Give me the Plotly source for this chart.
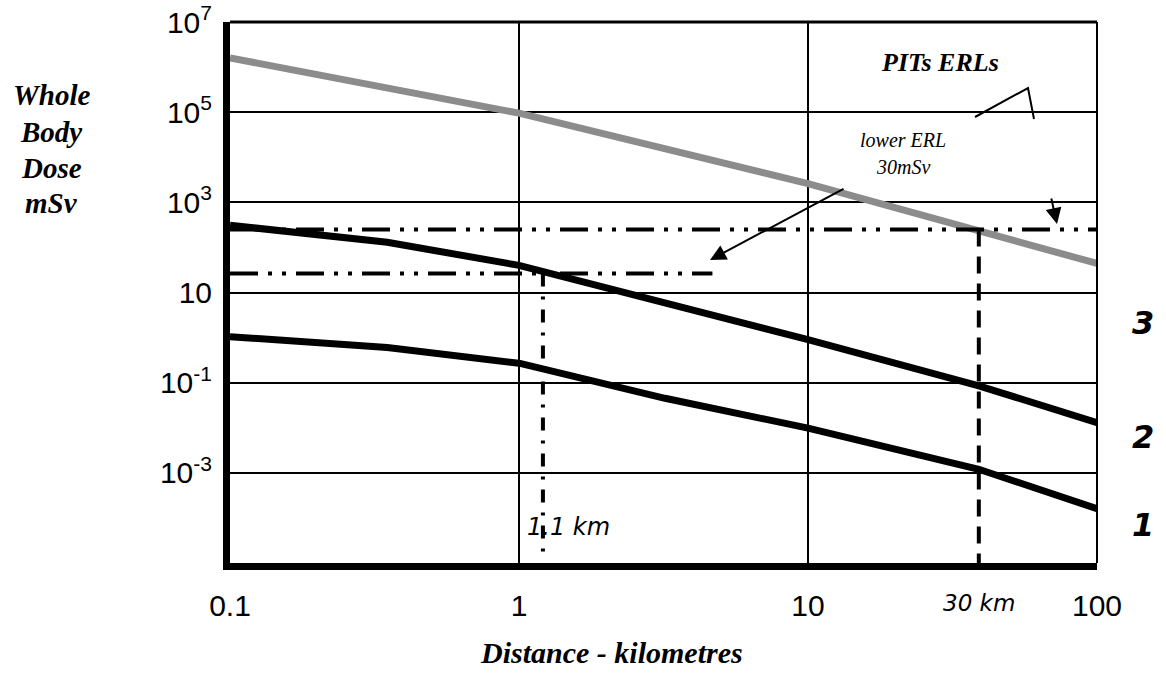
import plotly.graph_objects as go

# ---- data ----
dist_km = [0.1, 0.35, 1, 3.2, 10, 39, 100]
curve_upper = [310, 130, 40, 5.8, 0.9, 0.085, 0.013]
curve_lower = [1.05, 0.6, 0.27, 0.045, 0.0098, 0.0012, 0.00016]

gray_x = [0.1, 0.28, 1, 10, 100]
gray_y = [1.6e6, 4.4e5, 9.5e4, 2.6e3, 44]

upper_erl = 251          # mSv, dash-dot line
upper_erl_x = [0.1, 100]
lower_erl = 26.4         # mSv, lower ERL 30 mSv
lower_erl_x = [0.1, 4.67]
dist_1km = 1.21
dist_30km = 39
y_floor = 1.6e-5
y_floor2 = 1e-5

x_tickvals = [0.1, 1, 10, 100]
x_ticktext = ["0.1", "1", "10", "100"]
y_tickvals = [1e7, 1e5, 1e3, 10, 0.1, 1e-3]
y_ticktext = ["10<sup>7</sup>", "10<sup>5</sup>", "10<sup>3</sup>", "10",
              "10<sup>-1</sup>", "10<sup>-3</sup>"]

fig = go.Figure()

fig.add_trace(go.Scatter(x=gray_x, y=gray_y, mode="lines",
                         line=dict(color="#8c8c8c", width=7), showlegend=False))
fig.add_trace(go.Scatter(x=dist_km, y=curve_upper, mode="lines",
                         line=dict(color="black", width=7), showlegend=False))
fig.add_trace(go.Scatter(x=dist_km, y=curve_lower, mode="lines",
                         line=dict(color="black", width=7), showlegend=False))

dashdotdot = "28px,10px,4px,10px,4px,10px"
fig.add_trace(go.Scatter(x=upper_erl_x, y=[upper_erl, upper_erl], mode="lines",
                         line=dict(color="black", width=4, dash=dashdotdot), showlegend=False))
fig.add_trace(go.Scatter(x=lower_erl_x, y=[lower_erl, lower_erl], mode="lines",
                         line=dict(color="black", width=4, dash=dashdotdot), showlegend=False))
fig.add_trace(go.Scatter(x=[dist_1km, dist_1km], y=[lower_erl, y_floor], mode="lines",
                         line=dict(color="black", width=4, dash="13px,10px,3px,10px"), showlegend=False))
fig.add_trace(go.Scatter(x=[dist_30km, dist_30km], y=[upper_erl, y_floor2], mode="lines",
                         line=dict(color="black", width=4, dash="17px,10px"), showlegend=False))

L, R, T, B = 230, 1097, 22, 563
W, H = 1166, 680

def px(xp):
    return (xp - L) / (R - L)

def py(yp):
    return (B - yp) / (B - T)

serif = "Liberation Serif"
sans = "DejaVu Sans"

def label(txt, xp, yp, family, size, bold=False, italic=True):
    return dict(text=txt, xref="paper", yref="paper", x=px(xp), y=py(yp),
                showarrow=False, xanchor="center", yanchor="middle",
                font=dict(family=family, size=size, color="black",
                          weight="bold" if bold else "normal",
                          style="italic" if italic else "normal"))

ann = []
# y-axis title
for txt, yy in [("Whole", 95), ("Body", 132), ("Dose", 168), ("mSv", 203)]:
    ann.append(label(txt, 51, yy, serif, 29, bold=True))
# x-axis title
ann.append(label("Distance - kilometres", 611, 653, serif, 30, bold=True))
ann.append(label("PITs ERLs", 940, 63, serif, 26, bold=True))
ann.append(label("lower ERL", 903, 140, serif, 20))
ann.append(label("30mSv", 903, 167, serif, 20))
ann.append(label("1.1 km", 568, 527, sans, 24))
ann.append(label("30 km", 979, 603, sans, 23))
for txt, yy in [("3", 323), ("2", 437), ("1", 525)]:
    ann.append(label(txt, 1143, yy, sans, 32, bold=True))
# arrows
ann.append(dict(text="", xref="paper", yref="paper", x=px(710), y=py(260),
                ax=135, ay=-72, showarrow=True, arrowhead=2, arrowsize=1.6,
                arrowwidth=2, arrowcolor="black"))
ann.append(dict(text="", xref="paper", yref="paper", x=px(1057), y=py(224),
                ax=-6, ay=-27, showarrow=True, arrowhead=2, arrowsize=1.6,
                arrowwidth=2, arrowcolor="black"))

shapes = [
    # top border
    dict(type="line", xref="paper", yref="paper", x0=0, x1=1, y0=1, y1=1,
         line=dict(color="black", width=3)),
    # right border
    dict(type="line", xref="paper", yref="paper", x0=1, x1=1, y0=0, y1=1,
         line=dict(color="black", width=2)),
    # bracket near PITs ERLs
    dict(type="path", xref="paper", yref="paper",
         path=f"M {px(975)} {py(117)} L {px(1028)} {py(88)} L {px(1034)} {py(119)}",
         line=dict(color="black", width=2)),
]

fig.update_layout(
    width=W, height=H,
    margin=dict(l=L, r=W - R, t=T, b=H - B, autoexpand=False),
    paper_bgcolor="white", plot_bgcolor="white",
    showlegend=False,
    annotations=ann,
    shapes=shapes,
    xaxis=dict(type="log", range=[-1, 2], tickvals=x_tickvals, ticktext=x_ticktext,
               showgrid=True, gridcolor="black", gridwidth=2,
               showline=True, linecolor="black", linewidth=7,
               ticks="", ticklabelstandoff=10, zeroline=False, automargin=False,
               tickfont=dict(family="Liberation Sans", size=30, color="black")),
    yaxis=dict(type="log", range=[-5, 7], tickvals=y_tickvals, ticktext=y_ticktext,
               showgrid=True, gridcolor="black", gridwidth=2,
               showline=True, linecolor="black", linewidth=7,
               ticks="", ticklabelstandoff=5, zeroline=False, automargin=False,
               tickfont=dict(family="Liberation Sans", size=30, color="black")),
)

fig.write_html("out.html")
